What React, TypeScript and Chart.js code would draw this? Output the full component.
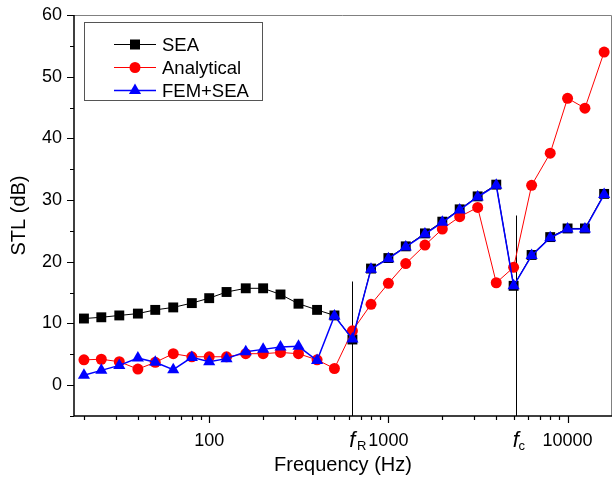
import React, { useEffect, useRef } from "react";
import { Chart, registerables } from "chart.js";

Chart.register(...registerables);

const freqs = [20, 25, 31.5, 40, 50, 63, 80, 100, 125, 160, 200, 250, 315, 400, 500, 630, 800, 1000, 1250, 1600, 2000, 2500, 3150, 4000, 5000, 6300, 8000, 10000, 12500, 16000];
const seaValues = [10.8, 11.0, 11.3, 11.6, 12.2, 12.6, 13.3, 14.1, 15.1, 15.7, 15.7, 14.7, 13.2, 12.2, 11.3, 7.4, 18.9, 20.6, 22.5, 24.6, 26.5, 28.5, 30.6, 32.5, 16.1, 21.1, 24.0, 25.4, 25.4, 31.0];
const analyticalValues = [4.1, 4.2, 3.8, 2.6, 3.7, 5.1, 4.6, 4.6, 4.6, 5.1, 5.1, 5.3, 5.1, 4.1, 2.7, 8.8, 13.1, 16.5, 19.7, 22.7, 25.3, 27.3, 28.8, 16.6, 19.1, 32.4, 37.6, 46.5, 44.9, 54.0];
const femSeaValues = [1.6, 2.4, 3.2, 4.4, 3.7, 2.5, 4.5, 3.8, 4.3, 5.4, 5.8, 6.2, 6.3, 4.0, 11.2, 7.5, 18.8, 20.5, 22.4, 24.5, 26.4, 28.4, 30.5, 32.4, 16.1, 21.0, 23.9, 25.3, 25.3, 30.9];
const seriesNames = ["SEA", "Analytical", "FEM+SEA"];
const xTickValues = [100, 1000, 10000];
const yTickValues = [0, 10, 20, 30, 40, 50, 60];
const yMinorTicks = [-5, 5, 15, 25, 35, 45, 55];
const markerLines = [
  { freq: 630, top: 16.8, sub: "R", subDx: 4.5 },
  { freq: 5150, top: 27.5, sub: "c", subDx: 2.5 },
];

const FONT = "Arial, 'Liberation Sans', Helvetica, sans-serif";

function minorXTicks(min: number, max: number) {
  const out: number[] = [];
  for (let d = 10; d <= 10000; d *= 10) {
    for (let k = 2; k <= 9; k++) {
      const v = d * k;
      if (v >= min && v <= max) out.push(v);
    }
  }
  return out;
}

const decorPlugin = {
  id: "decor",
  beforeDatasetsDraw(chart: any) {
    const { ctx, chartArea: a, scales } = chart;
    const x = scales.x;
    const y = scales.y;
    ctx.save();
    ctx.strokeStyle = "#000";
    ctx.lineWidth = 1;
    markerLines.forEach((m) => {
      const px = Math.round(x.getPixelForValue(m.freq)) + 0.5;
      ctx.beginPath();
      ctx.moveTo(px, y.getPixelForValue(m.top));
      ctx.lineTo(px, a.bottom);
      ctx.stroke();
    });
    ctx.restore();
  },
  afterDraw(chart: any) {
    const { ctx, chartArea: a, scales } = chart;
    const x = scales.x;
    const y = scales.y;
    ctx.save();
    ctx.strokeStyle = "#808080";
    ctx.lineWidth = 1;
    ctx.beginPath();
    ctx.moveTo(a.left, a.top + 0.5);
    ctx.lineTo(a.right - 0.5, a.top + 0.5);
    ctx.lineTo(a.right - 0.5, a.bottom);
    ctx.stroke();
    ctx.strokeStyle = "#000";
    ctx.lineWidth = 1.5;
    ctx.beginPath();
    ctx.moveTo(a.left, a.top);
    ctx.lineTo(a.left, a.bottom);
    ctx.lineTo(a.right, a.bottom);
    ctx.stroke();
    ctx.lineWidth = 1.2;
    ctx.beginPath();
    yTickValues.forEach((v) => {
      const py = Math.round(y.getPixelForValue(v)) + 0.5;
      ctx.moveTo(a.left - 7, py);
      ctx.lineTo(a.left, py);
    });
    yMinorTicks.forEach((v) => {
      const py = Math.round(y.getPixelForValue(v)) + 0.5;
      ctx.moveTo(a.left - 4, py);
      ctx.lineTo(a.left, py);
    });
    xTickValues.forEach((v) => {
      const px = Math.round(x.getPixelForValue(v)) + 0.5;
      ctx.moveTo(px, a.bottom);
      ctx.lineTo(px, a.bottom + 7);
    });
    minorXTicks(x.min, x.max).forEach((v) => {
      const px = Math.round(x.getPixelForValue(v)) + 0.5;
      ctx.moveTo(px, a.bottom);
      ctx.lineTo(px, a.bottom + 4);
    });
    ctx.stroke();

    ctx.fillStyle = "#000";
    ctx.textBaseline = "alphabetic";
    markerLines.forEach((m) => {
      const px = x.getPixelForValue(m.freq);
      ctx.font = `italic 22px ${FONT}`;
      ctx.textAlign = "center";
      ctx.fillText("f", px, 446.5);
      ctx.font = `13px ${FONT}`;
      ctx.textAlign = "left";
      ctx.fillText(m.sub, px + m.subDx, 450);
    });

    const lx = 84.5, ly = 22.5, lw = 178, lh = 78;
    ctx.fillStyle = "#fff";
    ctx.fillRect(lx, ly, lw, lh);
    ctx.strokeStyle = "#555";
    ctx.lineWidth = 1;
    ctx.strokeRect(lx, ly, lw, lh);
    const rows = [44.5, 67.5, 90.5];
    chart.data.datasets.forEach((ds: any, i: number) => {
      const ry = rows[i];
      ctx.strokeStyle = ds.borderColor;
      ctx.lineWidth = ds.borderWidth;
      ctx.beginPath();
      ctx.moveTo(114, ry);
      ctx.lineTo(156, ry);
      ctx.stroke();
      ctx.fillStyle = ds.pointBackgroundColor;
      const cx = 135;
      ctx.beginPath();
      if (ds.pointStyle === "rect") {
        ctx.rect(cx - 5, ry - 5, 10, 10);
      } else if (ds.pointStyle === "circle") {
        ctx.arc(cx, ry, 5.5, 0, Math.PI * 2);
      } else {
        const r = 7;
        ctx.moveTo(cx, ry - r);
        ctx.lineTo(cx + r * 0.866, ry + r / 2);
        ctx.lineTo(cx - r * 0.866, ry + r / 2);
        ctx.closePath();
      }
      ctx.fill();
      ctx.fillStyle = "#000";
      ctx.font = `18.5px ${FONT}`;
      ctx.textAlign = "left";
      ctx.textBaseline = "middle";
      ctx.fillText(ds.label, 162, ry + 1);
    });
    ctx.restore();
  },
};

function zeroPad(s: any) {
  s.paddingTop = 0;
  s.paddingBottom = 0;
  s.paddingLeft = 0;
  s.paddingRight = 0;
}

export default function App() {
  const ref = useRef<HTMLCanvasElement | null>(null);
  useEffect(() => {
    if (!ref.current) return;
    const chart = new Chart(ref.current, {
      type: "line",
      data: {
        datasets: [
          {
            label: seriesNames[0],
            data: freqs.map((f, i) => ({ x: f, y: seaValues[i] })),
            borderColor: "#000000",
            backgroundColor: "#000000",
            pointBackgroundColor: "#000000",
            pointBorderWidth: 0,
            borderWidth: 1,
            pointStyle: "rect",
            pointRadius: 7,
            order: 3,
          },
          {
            label: seriesNames[1],
            data: freqs.map((f, i) => ({ x: f, y: analyticalValues[i] })),
            borderColor: "#ff0000",
            backgroundColor: "#ff0000",
            pointBackgroundColor: "#ff0000",
            pointBorderWidth: 0,
            borderWidth: 1,
            pointStyle: "circle",
            pointRadius: 5.5,
            order: 2,
          },
          {
            label: seriesNames[2],
            data: freqs.map((f, i) => ({ x: f, y: femSeaValues[i] })),
            borderColor: "#0000ff",
            backgroundColor: "#0000ff",
            pointBackgroundColor: "#0000ff",
            pointBorderWidth: 0,
            borderWidth: 1.5,
            pointStyle: "triangle",
            pointRadius: 7,
            order: 1,
          },
        ],
      },
      options: {
        animation: false,
        responsive: false,
        maintainAspectRatio: false,
        devicePixelRatio: 1,
        layout: { autoPadding: false, padding: { top: 15, right: 1, left: 0, bottom: 0 } },
        plugins: { legend: { display: false }, tooltip: { enabled: false } },
        elements: { line: { tension: 0 } },
        scales: {
          x: {
            type: "logarithmic",
            min: 17.6,
            max: 17700,
            grid: { display: false, drawTicks: false },
            border: { display: false },
            afterBuildTicks: (s: any) => {
              s.ticks = xTickValues.map((v) => ({ value: v, major: true }));
            },
            afterFit: (s: any) => {
              s.height = 63;
              zeroPad(s);
            },
            ticks: {
              autoSkip: false,
              maxRotation: 0,
              padding: 14,
              color: "#000",
              font: { family: FONT, size: 18 },
              callback: (v: any) => String(v),
            },
            title: {
              display: true,
              text: "Frequency (Hz)",
              color: "#000",
              font: { family: FONT, size: 20, lineHeight: 1.2 },
              padding: { top: 0, bottom: 1.5 },
            },
          },
          y: {
            type: "linear",
            min: -5,
            max: 60,
            grid: { display: false, drawTicks: false },
            border: { display: false },
            afterBuildTicks: (s: any) => {
              s.ticks = yTickValues.map((v) => ({ value: v }));
            },
            afterFit: (s: any) => {
              s.width = 74;
              zeroPad(s);
            },
            ticks: {
              padding: 12,
              color: "#000",
              font: { family: FONT, size: 18 },
            },
            title: {
              display: true,
              text: "STL (dB)",
              color: "#000",
              font: { family: FONT, size: 20, lineHeight: 1.2 },
              padding: { top: 7, bottom: 0 },
            },
          },
        },
      },
      plugins: [decorPlugin],
    } as any);
    return () => chart.destroy();
  }, []);
  return (
    <div style={{ position: "fixed", left: 0, top: 0, width: 613, height: 479, background: "#fff" }}>
      <canvas ref={ref} width={613} height={479} style={{ width: 613, height: 479, display: "block" }} />
    </div>
  );
}
